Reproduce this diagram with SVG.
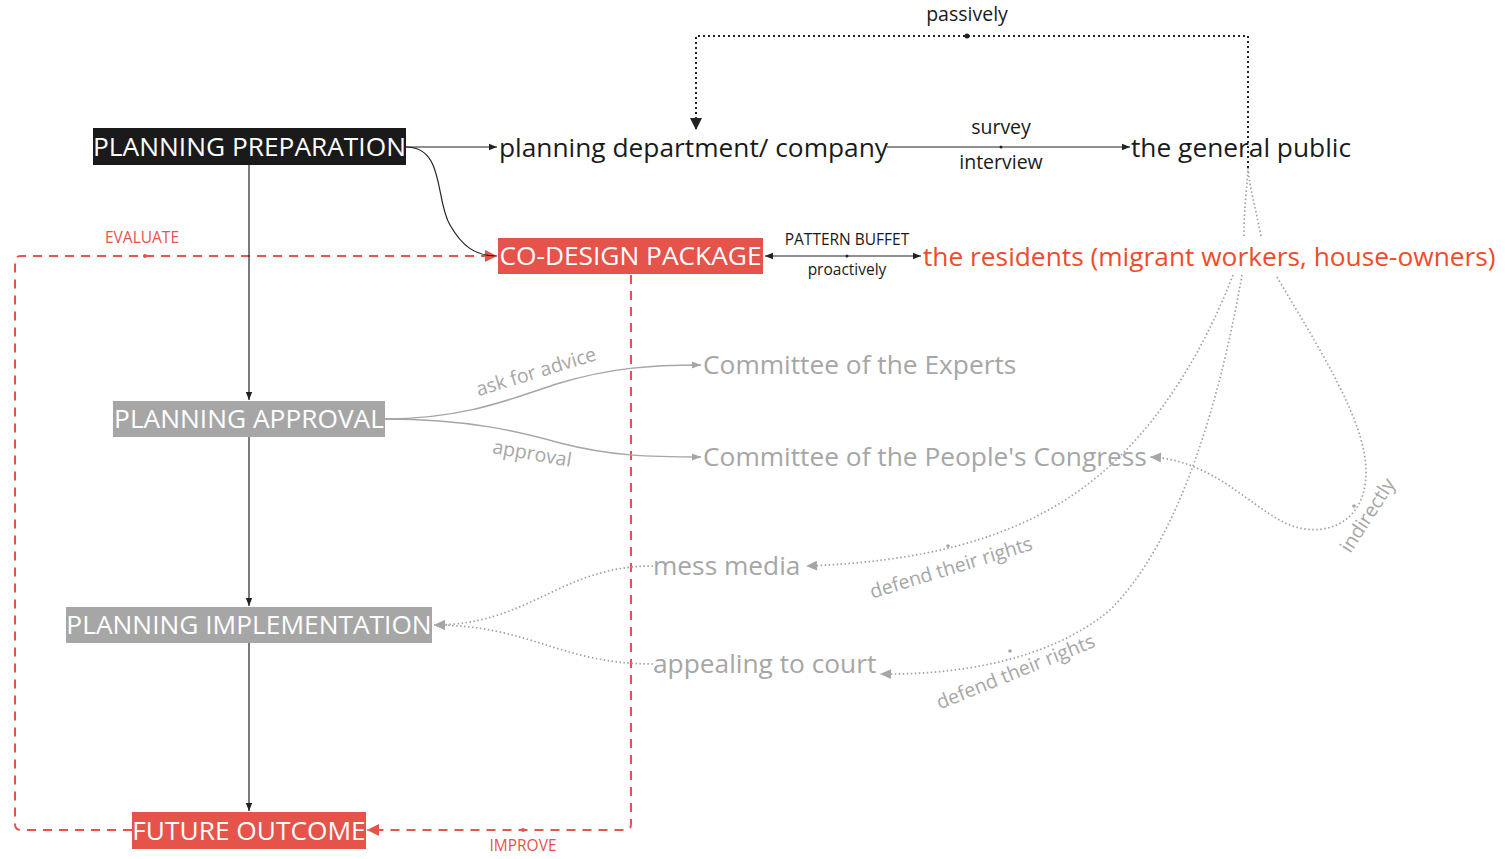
<svg xmlns="http://www.w3.org/2000/svg" width="1505" height="859" viewBox="0 0 1505 859">
<defs>
<style>
text{font-family:"Open Sans","Liberation Sans",sans-serif}
.big{font-size:26.3px}
.wt{fill:#fff;text-anchor:middle}
.blk{fill:#1a1a1a}
.gry{fill:#a6a6a6}
.red{fill:#e5534b}
.res{fill:#f04b2b}
.lbl{font-size:19.5px;text-anchor:middle}
.sml{font-size:15.5px;text-anchor:middle}
.ln{fill:none;stroke:#222;stroke-width:1.2}
.gl{fill:none;stroke:#a6a6a6;stroke-width:1.5}
.gd{fill:none;stroke:#a0a0a0;stroke-width:1.7;stroke-dasharray:1.5 2.5}
.bd{fill:none;stroke:#222;stroke-width:2;stroke-dasharray:2 3}
.rd{fill:none;stroke:#e5534b;stroke-width:2;stroke-dasharray:9 7}
</style>
<marker id="ab" viewBox="0 0 10 10" refX="10" refY="5" markerWidth="10" markerHeight="8" markerUnits="userSpaceOnUse" orient="auto-start-reverse"><path d="M0,1 L10,5 L0,9 z" fill="#222"/></marker>
<marker id="abb" viewBox="0 0 10 10" refX="10" refY="5" markerWidth="14" markerHeight="12" markerUnits="userSpaceOnUse" orient="auto"><path d="M0,0 L10,5 L0,10 z" fill="#222"/></marker>
<marker id="ag" viewBox="0 0 10 10" refX="10" refY="5" markerWidth="12" markerHeight="9" markerUnits="userSpaceOnUse" orient="auto"><path d="M0,1 L10,5 L0,9 z" fill="#a6a6a6"/></marker>
<marker id="agb" viewBox="0 0 10 10" refX="10" refY="5" markerWidth="14" markerHeight="11" markerUnits="userSpaceOnUse" orient="auto"><path d="M0,0.5 L10,5 L0,9.5 z" fill="#a6a6a6"/></marker>
<marker id="ar" viewBox="0 0 10 10" refX="10" refY="5" markerWidth="14" markerHeight="12" markerUnits="userSpaceOnUse" orient="auto"><path d="M0,0 L10,5 L0,10 z" fill="#e5534b"/></marker>
</defs>
<rect width="1505" height="859" fill="#fff"/>

<g id="connectors">
  <!-- red loops -->
  <path class="rd" d="M132,830 L21,830 Q15,830 15,824 L15,262 Q15,256 21,256 L497,256" marker-end="url(#ar)"/>
  <circle cx="145" cy="256" r="2" fill="#e5534b"/>
  <text x="142" y="243" class="sml" fill="#e5534b">EVALUATE</text>
  <path class="rd" d="M631,275 L631,824 Q631,830 625,830 L367,830" marker-end="url(#ar)"/>
  <circle cx="523" cy="830" r="2" fill="#e5534b"/>
  <text x="523" y="851" class="sml" fill="#e5534b">IMPROVE</text>

  <!-- black solid -->
  <path class="ln" d="M406,147 L497,147" marker-end="url(#ab)"/>
  <path class="ln" d="M406,147 C445,147 435,200 450,225 C462,246 475,256 497,256" />
  <path class="ln" d="M249,165 L249,400" marker-end="url(#ab)"/>
  <path class="ln" d="M249,437 L249,606" marker-end="url(#ab)"/>
  <path class="ln" d="M249,643 L249,811" marker-end="url(#ab)"/>
  <path class="ln" d="M887,147 L1130,147" marker-end="url(#ab)"/>
  <circle cx="1001" cy="147" r="1.5" fill="#222"/>
  <text x="1001" y="134" class="lbl blk">survey</text>
  <text x="1001" y="169" class="lbl blk">interview</text>
  <path class="ln" d="M765,256 L921,256" marker-start="url(#ab)" marker-end="url(#ab)"/>
  <circle cx="847" cy="256" r="1.5" fill="#222"/>
  <text x="847" y="245" class="sml blk">PATTERN BUFFET</text>
  <text x="847" y="275" class="sml blk">proactively</text>

  <!-- passively -->
  <path class="gd" d="M1244,236 C1244,205 1247,190 1248,168"/>
  <path class="gd" d="M1261,236 C1255,205 1250,190 1248,168"/>
  <path class="bd" d="M1248,168 L1248,36 L696,36 L696,130" marker-end="url(#abb)"/>
  <circle cx="967" cy="36" r="2.5" fill="#222"/>
  <text x="967" y="21" class="lbl blk">passively</text>

  <!-- approval branches -->
  <path class="gl" d="M385,419 C470,419 520,395 560,383 C610,368 650,365 701,365" marker-end="url(#ag)"/>
  <path class="gl" d="M385,419 C470,419 520,432 560,443 C610,456 650,457 701,457" marker-end="url(#ag)"/>
  <text x="0" y="0" class="lbl gry" transform="translate(538,378) rotate(-17)">ask for advice</text>
  <text x="0" y="0" class="lbl gry" transform="translate(531,460) rotate(10)">approval</text>

  <!-- residents dotted -->
  <path class="gd" d="M1233,275 C1200,360 1150,440 1080,490 C1010,540 920,562 806,566" marker-end="url(#agb)"/>
  <circle cx="948" cy="546" r="1.8" fill="#a6a6a6"/>
  <text x="0" y="0" class="lbl gry" transform="translate(953,574) rotate(-17)">defend their rights</text>
  <path class="gd" d="M1242,275 C1220,400 1180,540 1110,610 C1050,660 960,675 880,674" marker-end="url(#agb)"/>
  <circle cx="1010" cy="651" r="1.8" fill="#a6a6a6"/>
  <text x="0" y="0" class="lbl gry" transform="translate(1018,678) rotate(-22)">defend their rights</text>
  <path class="gd" d="M1277,277 C1320,350 1365,420 1366,470 C1367,520 1330,535 1300,528 C1260,520 1220,460 1150,457" marker-end="url(#agb)"/>
  <circle cx="1354" cy="506" r="1.8" fill="#a6a6a6"/>
  <text x="0" y="0" class="lbl gry" transform="translate(1373,519) rotate(-57)">indirectly</text>

  <!-- to implementation -->
  <path class="gd" d="M653,566 C560,566 530,625 434,625" marker-end="url(#agb)"/>
  <path class="gd" d="M653,664 C560,664 530,625 434,625" marker-end="url(#agb)"/>
</g>

<g id="n-prep">
  <rect x="93" y="128" width="313" height="37" fill="#1a1a1a"/>
  <text x="249.5" y="156" class="big wt">PLANNING PREPARATION</text>
</g>
<g id="n-dept">
  <text x="499" y="157" class="big blk">planning department/ company</text>
</g>
<g id="n-public">
  <text x="1131" y="157" class="big blk">the general public</text>
</g>
<g id="n-codesign">
  <rect x="498" y="238" width="265" height="36" fill="#e5534b"/>
  <text x="630.5" y="265" class="big wt">CO-DESIGN PACKAGE</text>
</g>
<g id="n-residents">
  <text x="923" y="266" class="big res">the residents (migrant workers, house-owners)</text>
</g>
<g id="n-experts">
  <text x="703" y="374" class="big gry">Committee of the Experts</text>
</g>
<g id="n-congress">
  <text x="703" y="466" class="big gry">Committee of the People's Congress</text>
</g>
<g id="n-approval">
  <rect x="113" y="401" width="272" height="36" fill="#a6a6a6"/>
  <text x="249" y="428" class="big wt">PLANNING APPROVAL</text>
</g>
<g id="n-media">
  <text x="653" y="575" class="big gry">mess media</text>
</g>
<g id="n-court">
  <text x="653" y="673" class="big gry">appealing to court</text>
</g>
<g id="n-impl">
  <rect x="66" y="607" width="366" height="36" fill="#a6a6a6"/>
  <text x="249" y="634" class="big wt">PLANNING IMPLEMENTATION</text>
</g>
<g id="n-future">
  <rect x="132" y="812" width="234" height="37" fill="#e5534b"/>
  <text x="249" y="840" class="big wt">FUTURE OUTCOME</text>
</g>
</svg>
